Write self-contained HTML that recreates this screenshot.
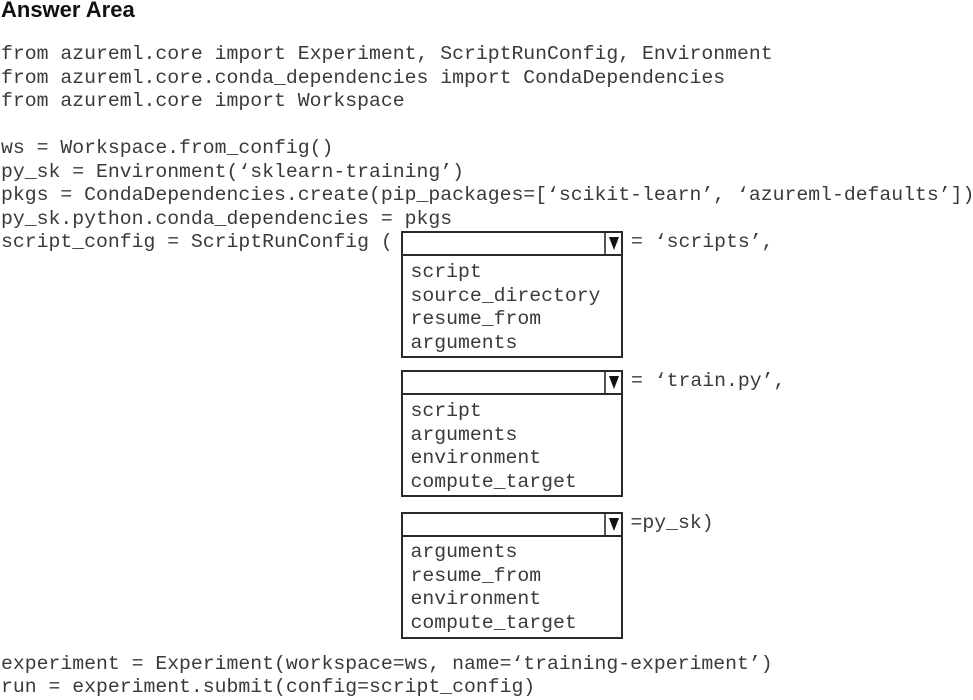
<!DOCTYPE html>
<html>
<head>
<meta charset="utf-8">
<style>
  html, body { margin: 0; padding: 0; background: #fff; }
  body { width: 973px; height: 699px; position: relative; overflow: hidden; }
  .t { position: absolute; font-family: "Liberation Mono", "Courier New", monospace; font-size: 19.8px; line-height: 23.5px; color: #3a3a3a; white-space: pre; }
  .title { position: absolute; left: 1px; top: -2.5px; font-family: "Liberation Sans", Arial, sans-serif; font-weight: bold; font-size: 22px; line-height: 24px; color: #111; white-space: pre; }
  .box { position: absolute; left: 401px; width: 218px; height: 123px; border: 2px solid #2a2a2a; background: #fff; }
  .hdr { position: absolute; left: 0; top: 0; width: 218px; height: 21px; border-bottom: 2px solid #2a2a2a; }
  .div { position: absolute; left: 201px; top: 0; width: 1.5px; height: 21px; background: #555; }
  .tri { position: absolute; left: 205.5px; top: 4px; width: 0; height: 0; border-left: 5.5px solid transparent; border-right: 5.5px solid transparent; border-top: 13px solid #111; }
</style>
</head>
<body>
<div class="title">Answer Area</div>

<div class="t" style="left:1px;top:43px;">from azureml.core import Experiment, ScriptRunConfig, Environment</div>
<div class="t" style="left:1px;top:66.5px;">from azureml.core.conda_dependencies import CondaDependencies</div>
<div class="t" style="left:1px;top:90px;">from azureml.core import Workspace</div>

<div class="t" style="left:1px;top:137px;">ws = Workspace.from_config()</div>
<div class="t" style="left:1px;top:160.5px;">py_sk = Environment(‘sklearn-training’)</div>
<div class="t" style="left:1px;top:184px;">pkgs = CondaDependencies.create(pip_packages=[‘scikit-learn’, ‘azureml-defaults’])</div>
<div class="t" style="left:1px;top:207.5px;">py_sk.python.conda_dependencies = pkgs</div>
<div class="t" style="left:1px;top:231px;">script_config = ScriptRunConfig (</div>

<!-- Box 1 -->
<div class="box" style="top:231px;">
  <div class="hdr"></div>
  <div class="div"></div>
  <div class="tri"></div>
</div>
<div class="t" style="left:631px;top:231px;">= ‘scripts’,</div>
<div class="t" style="left:410.5px;top:261px;">script</div>
<div class="t" style="left:410.5px;top:284.5px;">source_directory</div>
<div class="t" style="left:410.5px;top:308px;">resume_from</div>
<div class="t" style="left:410.5px;top:331.5px;">arguments</div>

<!-- Box 2 -->
<div class="box" style="top:370px;">
  <div class="hdr"></div>
  <div class="div"></div>
  <div class="tri"></div>
</div>
<div class="t" style="left:631px;top:370px;">= ‘train.py’,</div>
<div class="t" style="left:410.5px;top:400px;">script</div>
<div class="t" style="left:410.5px;top:423.5px;">arguments</div>
<div class="t" style="left:410.5px;top:447px;">environment</div>
<div class="t" style="left:410.5px;top:470.5px;">compute_target</div>

<!-- Box 3 -->
<div class="box" style="top:512px;">
  <div class="hdr"></div>
  <div class="div"></div>
  <div class="tri"></div>
</div>
<div class="t" style="left:630.5px;top:512px;">=py_sk)</div>
<div class="t" style="left:410.5px;top:541px;">arguments</div>
<div class="t" style="left:410.5px;top:564.5px;">resume_from</div>
<div class="t" style="left:410.5px;top:588px;">environment</div>
<div class="t" style="left:410.5px;top:611.5px;">compute_target</div>

<div class="t" style="left:1px;top:653px;">experiment = Experiment(workspace=ws, name=‘training-experiment’)</div>
<div class="t" style="left:1px;top:676px;">run = experiment.submit(config=script_config)</div>
</body>
</html>
